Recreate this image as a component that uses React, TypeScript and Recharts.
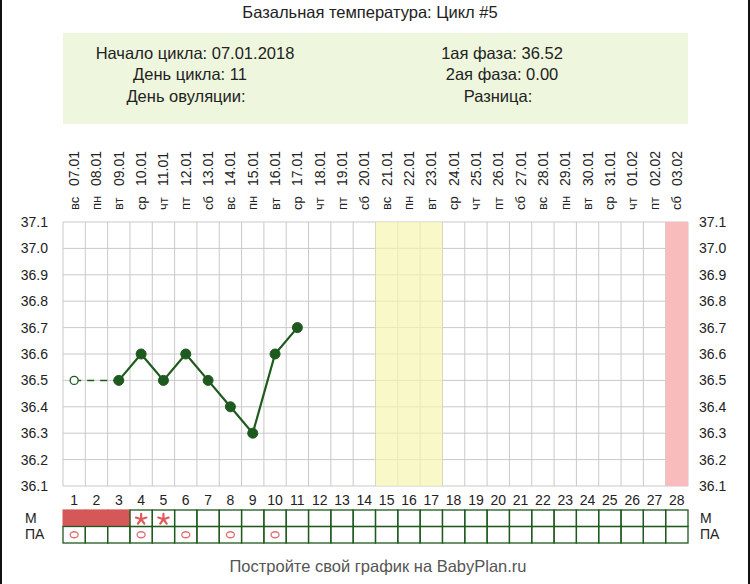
import React from "react";
import {
  ComposedChart,
  Line,
  XAxis,
  YAxis,
  CartesianGrid,
  ReferenceArea,
} from "recharts";

const days = [1, 2, 3, 4, 5, 6, 7, 8, 9, 10, 11, 12, 13, 14, 15, 16, 17, 18, 19, 20, 21, 22, 23, 24, 25, 26, 27, 28];
const dates = [
  "07.01", "08.01", "09.01", "10.01", "11.01", "12.01", "13.01", "14.01", "15.01", "16.01",
  "17.01", "18.01", "19.01", "20.01", "21.01", "22.01", "23.01", "24.01", "25.01", "26.01",
  "27.01", "28.01", "29.01", "30.01", "31.01", "01.02", "02.02", "03.02",
];
const weekdays = [
  "вс", "пн", "вт", "ср", "чт", "пт", "сб",
  "вс", "пн", "вт", "ср", "чт", "пт", "сб",
  "вс", "пн", "вт", "ср", "чт", "пт", "сб",
  "вс", "пн", "вт", "ср", "чт", "пт", "сб",
];
const temps: (number | null)[] = [
  null, null, 36.5, 36.6, 36.5, 36.6, 36.5, 36.4, 36.3, 36.6, 36.7,
  null, null, null, null, null, null, null, null, null, null, null, null, null, null, null, null, null,
];
const openTemps: (number | null)[] = [36.5];
const dashedTemps: (number | null)[] = [36.5, null, 36.5];
const mRow = ["red", "red", "red", "star", "star"];
const paRow = [1, 4, 6, 8, 10];
const yTicks = [36.1, 36.2, 36.3, 36.4, 36.5, 36.6, 36.7, 36.8, 36.9, 37.0, 37.1];

const data = days.map((d, i) => ({
  day: d,
  temp: temps[i] ?? null,
  open: openTemps[i] ?? null,
  dash: dashedTemps[i] ?? null,
}));

const W = 750;
const H = 584;
const MARGIN = { top: 221, right: 2, bottom: 38, left: 3 };
const Y_AXIS_W = 60;
const X_AXIS_H = 60;
const PLOT_W = W - MARGIN.left - MARGIN.right - 2 * Y_AXIS_W;
const COL_W = PLOT_W / days.length;

const GREEN = "#1e5a1e";
const FONT = "'Liberation Sans', Arial, sans-serif";

const TopTick = (props: any) => {
  const { x, index } = props;
  const base = 222;
  return (
    <g>
      <text
        transform={`translate(${x},${base - 12}) rotate(-90)`}
        textAnchor="start"
        dominantBaseline="central"
        fontSize={13}
        fill="#222"
        fontFamily={FONT}
      >
        {weekdays[index]}
      </text>
      <text
        transform={`translate(${x},${base - 36}) rotate(-90)`}
        textAnchor="start"
        dominantBaseline="central"
        fontSize={14}
        fill="#222"
        fontFamily={FONT}
      >
        {dates[index]}
      </text>
    </g>
  );
};

const Asterisk = ({ cx, cy }: { cx: number; cy: number }) => {
  const r = 5.5;
  const angles = [-90, -18, 54, 126, 198];
  return (
    <g>
      {angles.map((a) => (
        <line
          key={a}
          x1={cx}
          y1={cy}
          x2={cx + r * Math.cos((a * Math.PI) / 180)}
          y2={cy + r * Math.sin((a * Math.PI) / 180)}
          stroke="#e05a5a"
          strokeWidth={2.2}
          strokeLinecap="round"
        />
      ))}
    </g>
  );
};

const BottomTick = (props: any) => {
  const { x, y, index, payload } = props;
  const left = x - COL_W / 2;
  const r1 = y + 24;
  const rh = 16.5;
  const m = mRow[index];
  const hasPa = paRow.includes(payload.value);
  return (
    <g>
      <text x={x} y={y + 19} textAnchor="middle" fontSize={14} fill="#222" fontFamily={FONT}>
        {payload.value}
      </text>
      {m === "red" ? (
        <rect x={left - 0.5} y={r1 - 0.6} width={COL_W + 1} height={rh + 0.6} fill="#d45858" />
      ) : (
        <rect x={left} y={r1} width={COL_W} height={rh} fill="none" stroke={GREEN} strokeWidth={1.3} />
      )}
      <rect x={left} y={r1 + rh} width={COL_W} height={rh} fill="none" stroke={GREEN} strokeWidth={1.3} />
      {m === "star" && <Asterisk cx={x} cy={r1 + rh / 2 + 1} />}
      {hasPa && (
        <ellipse cx={x} cy={r1 + rh * 1.5} rx={4} ry={3} fill="none" stroke="#e07070" strokeWidth={1.3} />
      )}
    </g>
  );
};

export default function App() {
  return (
    <div style={{ position: "absolute", left: 0, top: 0, width: W, height: H, background: "#fff", fontFamily: FONT }}>
      <div style={{ position: "absolute", left: 0, top: 0, width: 2, height: H, background: "#111" }} />
      <div style={{ position: "absolute", left: 748, top: 0, width: 2, height: H, background: "#111" }} />
      <div style={{ position: "absolute", left: 0, top: 3, width: 740, textAlign: "center", fontSize: 16.5, color: "#222" }}>
        Базальная температура: Цикл #5
      </div>
      <div style={{ position: "absolute", left: 63, top: 33, width: 625, height: 91, background: "#eef6dd" }} />
      {[
        { t: "Начало цикла: 07.01.2018", cx: 195, y: 44 },
        { t: "День цикла: 11", cx: 190, y: 65 },
        { t: "День овуляции:", cx: 186, y: 87 },
        { t: "1ая фаза: 36.52", cx: 502, y: 44 },
        { t: "2ая фаза: 0.00", cx: 502, y: 65 },
        { t: "Разница:", cx: 498, y: 87 },
      ].map((r) => (
        <div
          key={r.t}
          style={{ position: "absolute", left: r.cx - 150, width: 300, top: r.y, textAlign: "center", fontSize: 16.5, color: "#222" }}
        >
          {r.t}
        </div>
      ))}
      {[
        { t: "М", y: 510 },
        { t: "ПА", y: 526 },
      ].map((r) => (
        <React.Fragment key={r.t}>
          <div style={{ position: "absolute", left: 25, top: r.y, fontSize: 14, color: "#222" }}>{r.t}</div>
          <div style={{ position: "absolute", left: 700, top: r.y, fontSize: 14, color: "#222" }}>{r.t}</div>
        </React.Fragment>
      ))}
      <div style={{ position: "absolute", left: 0, top: 557, width: 756, textAlign: "center", fontSize: 16.5, color: "#555" }}>
        Постройте свой график на BabyPlan.ru
      </div>
      <div style={{ position: "absolute", left: 0, top: 0 }}>
        <ComposedChart width={W} height={H} data={data} margin={MARGIN}>
          <ReferenceArea x1={15} x2={17} fill="#f5f5b0" fillOpacity={0.7} stroke="none" />
          <ReferenceArea x1={28} x2={28} fill="#f8bcbc" fillOpacity={1} stroke="none" />
          <CartesianGrid
            stroke="#c9c9c9"
            strokeWidth={1}
            verticalCoordinatesGenerator={({ offset }: any) =>
              days.map((_, i) => offset.left + (i * offset.width) / days.length).concat([offset.left + offset.width])
            }
          />
          <XAxis
            dataKey="day"
            type="category"
            scale="band"
            height={X_AXIS_H}
            axisLine={false}
            tickLine={false}
            tickSize={0}
            tickMargin={0}
            interval={0}
            tick={<BottomTick />}
          />
          <XAxis
            xAxisId="top"
            dataKey="day"
            type="category"
            scale="band"
            orientation="top"
            height={1}
            axisLine={false}
            tickLine={false}
            tickSize={0}
            tickMargin={0}
            interval={0}
            tick={<TopTick />}
          />
          <YAxis
            domain={[36.1, 37.1]}
            ticks={yTicks}
            width={Y_AXIS_W}
            axisLine={false}
            tickLine={false}
            tickSize={0}
            tickMargin={15}
            interval={0}
            tickFormatter={(v: number) => v.toFixed(1)}
            tick={{ fontSize: 14, fill: "#222", fontFamily: FONT }}
          />
          <YAxis
            yAxisId="r"
            orientation="right"
            domain={[36.1, 37.1]}
            ticks={yTicks}
            width={Y_AXIS_W}
            axisLine={false}
            tickLine={false}
            tickSize={0}
            tickMargin={11}
            interval={0}
            tickFormatter={(v: number) => v.toFixed(1)}
            tick={{ fontSize: 14, fill: "#222", fontFamily: FONT, textAnchor: "start" }}
          />
          <Line
            xAxisId="top"
            yAxisId="r"
            dataKey="temp"
            stroke="none"
            dot={false}
            activeDot={false}
            legendType="none"
            isAnimationActive={false}
          />
          <Line
            dataKey="dash"
            connectNulls
            stroke={GREEN}
            strokeWidth={1.5}
            strokeDasharray="7 6"
            dot={false}
            activeDot={false}
            isAnimationActive={false}
          />
          <Line
            dataKey="temp"
            stroke={GREEN}
            strokeWidth={2.2}
            dot={{ r: 5, fill: GREEN, stroke: GREEN, strokeWidth: 1 }}
            activeDot={false}
            isAnimationActive={false}
          />
          <Line
            dataKey="open"
            stroke={GREEN}
            strokeWidth={1.5}
            dot={{ r: 4, fill: "#fff", stroke: GREEN, strokeWidth: 1.3 }}
            activeDot={false}
            isAnimationActive={false}
          />
        </ComposedChart>
      </div>
    </div>
  );
}
